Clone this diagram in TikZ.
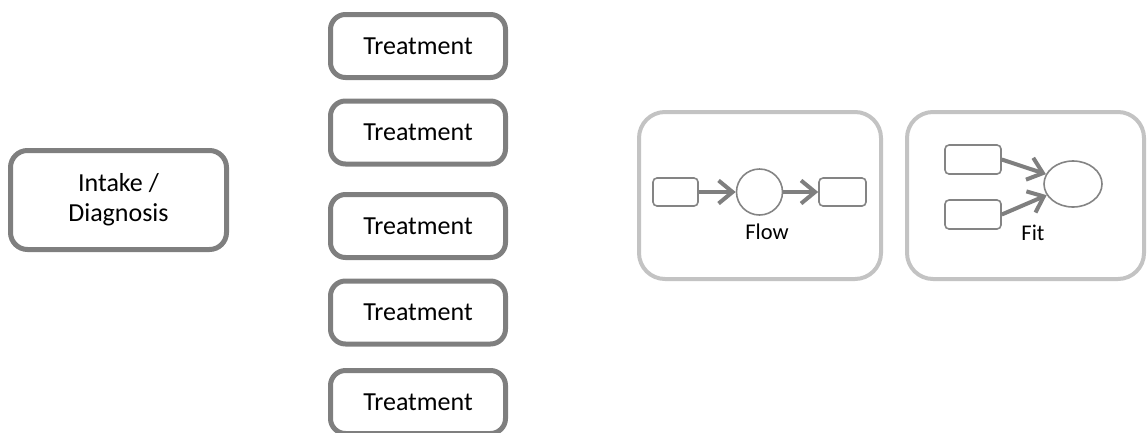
\documentclass[tikz,border=0pt]{standalone}
\usepackage{fontspec}
\setmainfont{Carlito}
\usetikzlibrary{arrows.meta,shapes.geometric}
\definecolor{boxgray}{HTML}{7F7F7F}
\definecolor{panelgray}{HTML}{C3C3C3}
\definecolor{shapegray}{HTML}{848484}

\begin{document}
\begin{tikzpicture}[x=1pt,y=-1pt,
  stagebox/.style={draw=boxgray, line width=5pt, rounded corners=15pt,
    minimum width=175pt, minimum height=63pt, inner sep=0pt,
    font=\fontsize{26}{30}\selectfont, align=center},
  panel/.style={draw=panelgray, line width=4pt, rounded corners=26pt,
    minimum width=242pt, minimum height=167pt, inner sep=0pt},
  slot/.style={draw=shapegray, line width=1.6pt, rounded corners=4pt,
    minimum height=28pt, inner sep=0pt},
  pool/.style={draw=shapegray, line width=1.6pt, ellipse, inner sep=0pt},
  link/.style={draw=boxgray, line width=4pt,
    -{Straight Barb[length=14pt,width=23pt]}},
  caption/.style={anchor=base, font=\fontsize{22.5}{25}\selectfont, inner sep=0pt}
]
\useasboundingbox (0,0) rectangle (1147,432);

% intake and the column of treatment stages
\node[stagebox, minimum width=216pt, minimum height=99pt, rounded corners=17pt]
  (intake) at (118.5,200) {Intake /\\Diagnosis};
\node[stagebox] (t1) at (418,46)    {Treatment};
\node[stagebox] (t2) at (418,132.5) {Treatment};
\node[stagebox] (t3) at (418,226)   {Treatment};
\node[stagebox] (t4) at (418,312.5) {Treatment};
\node[stagebox] (t5) at (418,402)   {Treatment};

% flow panel
\node[panel] (flowpanel) at (760,195.5) {};
\node[slot, minimum width=45pt] (fin)  at (675.5,192) {};
\node[pool, minimum width=46pt, minimum height=46pt] (fmid) at (759.5,192) {};
\node[slot, minimum width=47pt] (fout) at (842.5,192) {};
\draw[link] (fin.east) -- (fmid.west);
\draw[link] (fmid.east) -- (fout.west);
\node[caption] (flowlabel) at (767,239) {Flow};

% fit panel
\node[panel, minimum width=237pt] (fitpanel) at (1025.5,195.5) {};
\node[slot, minimum width=56pt, minimum height=29pt] (fa) at (973,159.5) {};
\node[slot, minimum width=56pt, minimum height=29pt] (fb) at (973,214.5) {};
\node[pool, minimum width=58pt, minimum height=46pt] (fc) at (1073,184) {};
\draw[link] (fa.east) -- (fc.160);
\draw[link] (fb.east) -- (fc.203);
\node[caption] (fitlabel) at (1033,240) {Fit};
\end{tikzpicture}
\end{document}
